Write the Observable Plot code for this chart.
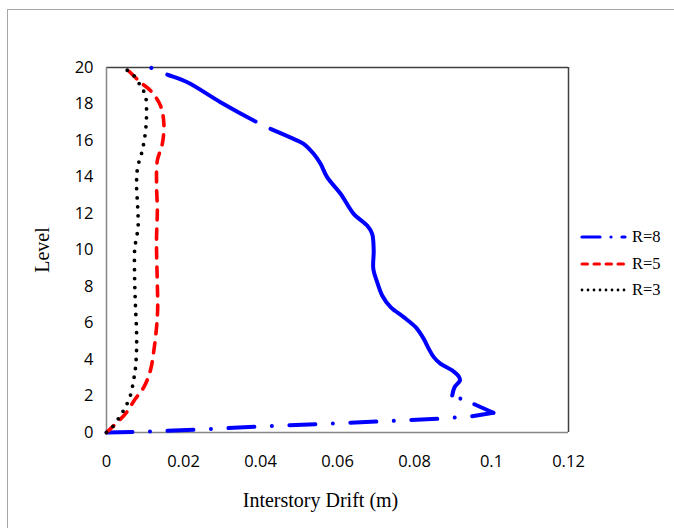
<!DOCTYPE html>
<html><head><meta charset="utf-8">
<script src="https://cdn.jsdelivr.net/npm/d3@7"></script>
<script src="https://cdn.jsdelivr.net/npm/@observablehq/plot@0.6"></script>
<style>
body{margin:0;background:#fff;}
#wrap{position:relative;width:674px;height:528px;overflow:hidden;background:#fff;}
#border{position:absolute;left:7px;top:9px;width:720px;height:620px;border-left:1.5px solid #a6a6a6;border-top:1.5px solid #a6a6a6;}
#chart{position:absolute;left:0;top:0;}
#legend{position:absolute;left:580px;top:0;}
.row{position:absolute;left:0;height:20px;display:flex;align-items:center;white-space:nowrap;}
.row svg{margin-right:5px;}
.row span{font-family:"Liberation Serif","Times New Roman",serif;font-size:16.5px;color:#000;}
</style></head>
<body><div id="wrap"><div id="border"></div><div id="chart"></div><div id="legend"></div></div>
<script>
// Axis ticks
const xTicks = [0, 0.02, 0.04, 0.06, 0.08, 0.1, 0.12];
const xTickLabels = ["0", "0.02", "0.04", "0.06", "0.08", "0.1", "0.12"];
const yTicks = [0, 2, 4, 6, 8, 10, 12, 14, 16, 18, 20];
const seriesNames = ["R=8", "R=5", "R=3"];
const xTitle = "Interstory Drift (m)";
const yTitle = "Level";

// R=8 (curve order: from base, out to the tip, then up to the roof)
const r8Drift = [0, 0.0114, 0.0236, 0.040, 0.0629, 0.0862, 0.0945, 0.1005, 0.0951, 0.0912,
  0.0898, 0.0904, 0.0918, 0.0915, 0.0898, 0.0868, 0.0850, 0.0837, 0.0824, 0.0803,
  0.0772, 0.0738, 0.0716, 0.0703, 0.0693, 0.0694, 0.0690, 0.0677, 0.0642, 0.0608,
  0.0573, 0.0556, 0.0538, 0.0512, 0.0486, 0.0426, 0.0391, 0.0296, 0.0210, 0.0153, 0.0114];
const r8Level = [0, 0.055, 0.16, 0.33, 0.53, 0.75, 0.88, 1.08, 1.59, 1.92,
  2.03, 2.48, 2.85, 3.07, 3.40, 3.76, 4.13, 4.59, 5.13, 5.77,
  6.32, 6.87, 7.51, 8.24, 8.97, 9.97, 10.89, 11.34, 11.98, 13.08,
  13.99, 14.72, 15.27, 15.82, 16.09, 16.64, 17.0, 18.10, 19.19, 19.65, 20.0];

// R=5
const r5Drift = [0, 0.0019, 0.0049, 0.0075, 0.0097, 0.0114, 0.0123, 0.0130, 0.0133, 0.0132,
  0.0130, 0.0130, 0.0132, 0.0130, 0.0132, 0.0145, 0.0149, 0.0140, 0.0114, 0.0088, 0.0049];
const r5Level = [0, 0.38, 1.02, 1.85, 2.48, 3.40, 4.49, 5.77, 6.87, 8.15,
  9.97, 10.70, 12.16, 13.63, 14.90, 15.82, 16.92, 17.92, 18.74, 19.19, 20.0];

// R=3
const r3Drift = [0, 0.0015, 0.0036, 0.0049, 0.0062, 0.0071, 0.0075, 0.0078, 0.0078, 0.0075,
  0.0073, 0.0073, 0.0075, 0.0082, 0.0081, 0.0078, 0.0081, 0.0093, 0.0101, 0.0104,
  0.0101, 0.0088, 0.0067, 0.0041];
const r3Level = [0, 0.29, 0.93, 1.39, 2.03, 2.94, 3.49, 4.49, 5.59, 7.05,
  8.51, 9.97, 10.34, 11.25, 12.35, 13.63, 14.54, 15.45, 16.45, 17.46,
  18.47, 19.01, 19.65, 20.0];

const rows = (xs, ys) => xs.map((x, i) => ({drift: x, level: ys[i]}));
const r8 = rows(r8Drift, r8Level), r5 = rows(r5Drift, r5Level), r3 = rows(r3Drift, r3Level);

// sections of the R=8 line (Excel restarts the dash pattern; middle looks solid)
const tip = d3.maxIndex(r8Drift);
const k2 = r8Level.findIndex((l, i) => i > tip && l >= 2);
const k3 = r8Level.findIndex(l => l >= 16.6);
const s1 = r8.slice(0, tip + 1), s2 = r8.slice(tip, k2 + 1), s3 = r8.slice(k2, k3 + 1), s4 = r8.slice(k3);

const BLUE = "#0000ff", RED = "#ff0000", BLACK = "#000000";
const common = {x: "drift", y: "level", strokeLinecap: "round"};
const SERIF = "'Liberation Serif', 'Times New Roman', serif";

const chart = Plot.plot({
  width: 674, height: 528,
  marginLeft: 106, marginRight: 106, marginTop: 67, marginBottom: 96,
  style: {fontFamily: "'Open Sans', sans-serif", fontSize: "16px", color: "#000", background: "transparent", overflow: "visible"},
  x: {domain: [0, 0.12]},
  y: {domain: [0, 20]},
  marks: [
    Plot.ruleX([0.12], {stroke: "#404040", strokeWidth: 1.5}),
    Plot.ruleY([20], {stroke: "#404040", strokeWidth: 1.5}),
    Plot.ruleX([0], {stroke: "#868686", strokeWidth: 1.5}),
    Plot.ruleY([0], {stroke: "#868686", strokeWidth: 1.5}),
    Plot.axisX(xTicks, {tickSize: 0, tickPadding: 23, label: null, fontSize: 16.5,
      tickFormat: d => xTickLabels[xTicks.indexOf(d)]}),
    Plot.axisY(yTicks, {tickSize: 0, tickPadding: 13, label: null, fontSize: 16.5}),
    Plot.text([xTitle], {text: d => d, frameAnchor: "bottom", textAnchor: "middle", lineAnchor: "middle",
      dx: -17, dy: 68, fontFamily: SERIF, fontSize: 20, fontWeight: "normal"}),
    Plot.text([yTitle], {text: d => d, frameAnchor: "left", textAnchor: "middle", lineAnchor: "middle",
      dx: -64, rotate: -90, fontFamily: SERIF, fontSize: 20, fontWeight: "normal"}),
    // R=8
    Plot.line(s1, {...common, stroke: BLUE, strokeWidth: 4, strokeDasharray: "26,17.5,0.01,17.5"}),
    Plot.line(s2, {...common, stroke: BLUE, strokeWidth: 4, strokeDasharray: "21,15,0.01,200"}),
    Plot.line(s3, {...common, stroke: BLUE, strokeWidth: 4, curve: "catmull-rom", strokeLinejoin: "round"}),
    Plot.line(s4, {...common, stroke: BLUE, strokeWidth: 4, curve: "catmull-rom",
      strokeDasharray: "100,17.2,0.01,400", strokeDashoffset: -16.8}),
    // R=5
    Plot.line(r5, {...common, stroke: RED, strokeWidth: 3.6, curve: "catmull-rom", strokeDasharray: "10,9"}),
    // R=3
    Plot.line(r3, {...common, stroke: BLACK, strokeWidth: 3.8, curve: "catmull-rom", strokeDasharray: "0,9"})
  ]
});
document.getElementById("chart").appendChild(chart);

// Legend
const legendStyles = [
  {color: BLUE, width: 3.2, dash: "18,11,0.01,11,30"},
  {color: RED, width: 3, dash: "5.5,6.5"},
  {color: BLACK, width: 2.8, dash: "0,6"}
];
const legendY = [237, 264, 290];
const legend = d3.select("#legend");
seriesNames.forEach((name, i) => {
  const row = legend.append("div").attr("class", "row").style("top", (legendY[i] - 10) + "px");
  const svg = row.append("svg").attr("width", 47).attr("height", 10);
  svg.append("line").attr("x1", 2).attr("x2", 45).attr("y1", 5).attr("y2", 5)
    .attr("stroke", legendStyles[i].color).attr("stroke-width", legendStyles[i].width)
    .attr("stroke-linecap", "round").attr("stroke-dasharray", legendStyles[i].dash);
  row.append("span").text(name);
});
</script>
</body></html>
